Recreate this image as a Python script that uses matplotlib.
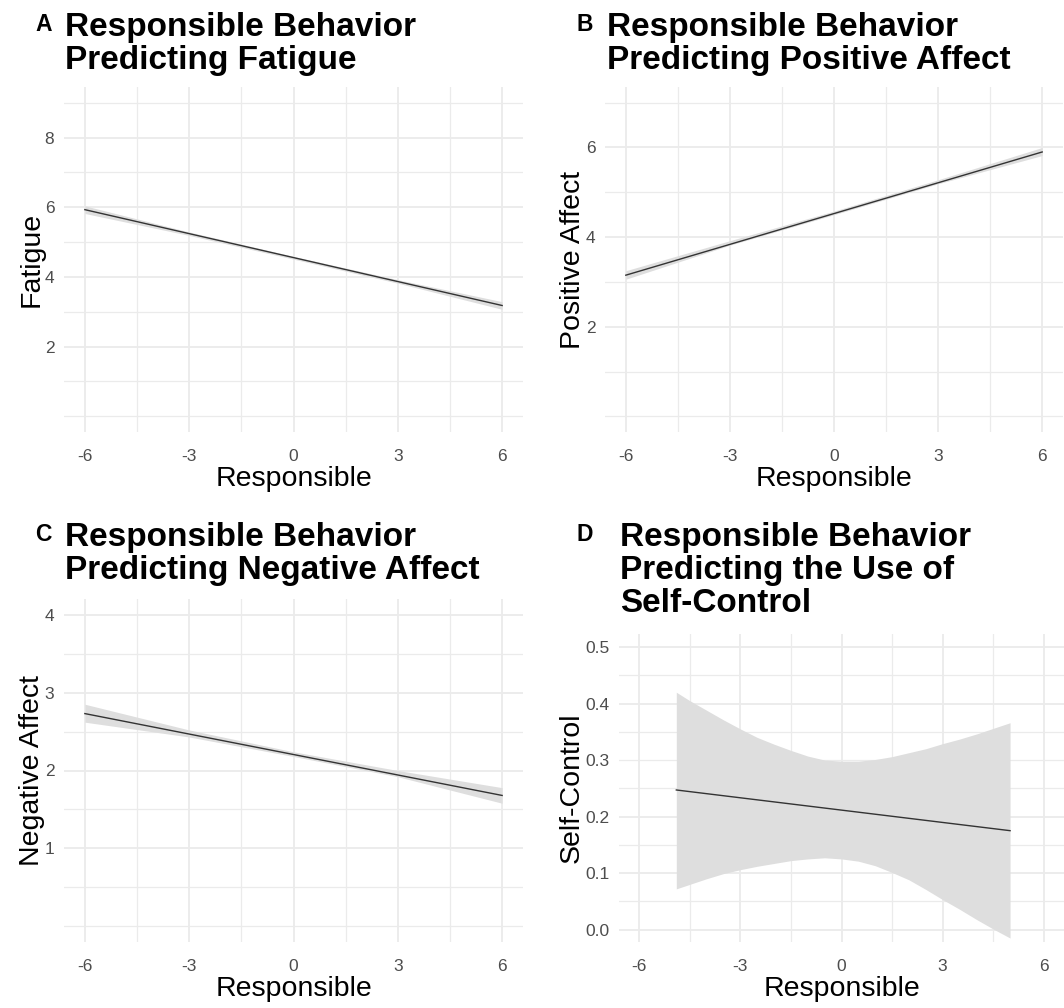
import matplotlib.pyplot as plt

plt.rcParams['font.family'] = ['Liberation Sans', 'DejaVu Sans']

# fitted lines (x range and predicted y at both ends)
fat_x = [-6, 6]
fat_y = [5.93, 3.18]
pos_x = [-6, 6]
pos_y = [3.15, 5.90]
neg_x = [-6, 6]
neg_y = [2.73, 1.68]
sc_x = [-4.9, 5.0]
sc_y = [0.247, 0.175]

# confidence bands
band_x = [-6, -3, 0, 3, 6]
fat_lo = [5.82, 5.19, 4.51, 3.82, 3.07]
fat_hi = [6.04, 5.29, 4.59, 3.92, 3.29]
pos_lo = [3.06, 3.82, 4.50, 5.19, 5.82]
pos_hi = [3.25, 3.92, 4.58, 5.28, 6.00]
neg_lo = [2.62, 2.43, 2.18, 1.92, 1.58]
neg_hi = [2.85, 2.52, 2.24, 2.00, 1.78]

sc_band_x = [-4.9, -4.5, -4, -3.5, -3, -2.5, -2, -1.5, -1, -0.5, 0, 0.5, 1, 1.5, 2, 2.5, 3, 3.5, 4, 4.5, 5.0]
sc_lo = [0.072, 0.080, 0.090, 0.099, 0.106, 0.112, 0.117, 0.122, 0.125, 0.127, 0.125, 0.121, 0.113, 0.101, 0.088, 0.071, 0.053, 0.036, 0.018, 0.001, -0.015]
sc_hi = [0.420, 0.405, 0.388, 0.371, 0.355, 0.340, 0.328, 0.317, 0.307, 0.300, 0.298, 0.298, 0.301, 0.306, 0.313, 0.320, 0.329, 0.337, 0.346, 0.356, 0.366]

x_ticks = [-6, -3, 0, 3, 6]
x_grid = [-6, -4.5, -3, -1.5, 0, 1.5, 3, 4.5, 6]

W, H = 1064, 1008
fig = plt.figure(figsize=(W / 100, H / 100), dpi=100)


def make_ax(l, t, r, b):
    return fig.add_axes([l / W, 1 - b / H, (r - l) / W, (b - t) / H])


def style(ax, ylim, yticks, ygrid, ylabel, fmt='{:g}'):
    ax.set_xlim(-6.6, 6.6)
    ax.set_ylim(*ylim)
    for g in x_grid:
        ax.axvline(g, color='#ebebeb', lw=1.3 if g in x_ticks else 0.9, zorder=0)
    for g in ygrid:
        ax.axhline(g, color='#ebebeb', lw=1.3 if g in yticks else 0.9, zorder=0)
    ax.set_xticks(x_ticks)
    ax.set_xticklabels([str(v) for v in x_ticks])
    ax.set_yticks(yticks)
    ax.set_yticklabels([fmt.format(v) for v in yticks])
    ax.tick_params(length=0, labelsize=12.5, labelcolor='#4d4d4d')
    ax.tick_params(axis='x', pad=12)
    ax.tick_params(axis='y', pad=7)
    for s in ax.spines.values():
        s.set_visible(False)
    ax.set_xlabel('Responsible', fontsize=20.5, labelpad=2)
    ax.set_ylabel(ylabel, fontsize=20.5, labelpad=0)


def title(letter, text, lx, tx, ty):
    fig.text(lx / W, 1 - (ty + 1) / H, letter, fontsize=16.5, fontweight='bold', va='top')
    fig.text(tx / W, 1 - ty / H, text, fontsize=24, fontweight='bold', va='top', linespacing=1.08)


band_col = '#dedede'
line_col = '#333333'

axA = make_ax(64, 87, 523, 432)
axA.fill_between(band_x, fat_lo, fat_hi, color=band_col, lw=0)
axA.plot(fat_x, fat_y, color=line_col, lw=1)
style(axA, (-0.45, 9.45), [2, 4, 6, 8], range(0, 10), 'Fatigue')
title('A', 'Responsible Behavior\nPredicting Fatigue', 35, 65, 12)

axB = make_ax(605, 87, 1063, 432)
axB.fill_between(band_x, pos_lo, pos_hi, color=band_col, lw=0)
axB.plot(pos_x, pos_y, color=line_col, lw=1)
style(axB, (-0.35, 7.35), [2, 4, 6], range(0, 8), 'Positive Affect')
title('B', 'Responsible Behavior\nPredicting Positive Affect', 577, 607, 12)

axC = make_ax(64, 599, 523, 942)
axC.fill_between(band_x, neg_lo, neg_hi, color=band_col, lw=0)
axC.plot(neg_x, neg_y, color=line_col, lw=1)
style(axC, (-0.2, 4.2), [1, 2, 3, 4], [i * 0.5 for i in range(9)], 'Negative Affect')
title('C', 'Responsible Behavior\nPredicting Negative Affect', 35, 65, 522)

axD = make_ax(619, 634, 1064, 942)
axD.fill_between(sc_band_x, sc_lo, sc_hi, color=band_col, lw=0)
axD.plot(sc_x, sc_y, color=line_col, lw=1)
style(axD, (-0.022, 0.523), [0.0, 0.1, 0.2, 0.3, 0.4, 0.5], [i * 0.05 for i in range(11)],
      'Self-Control', fmt='{:.1f}')
title('D', 'Responsible Behavior\nPredicting the Use of\nSelf-Control', 577, 620, 522)

fig.savefig('out.png', dpi=100, facecolor='white')
